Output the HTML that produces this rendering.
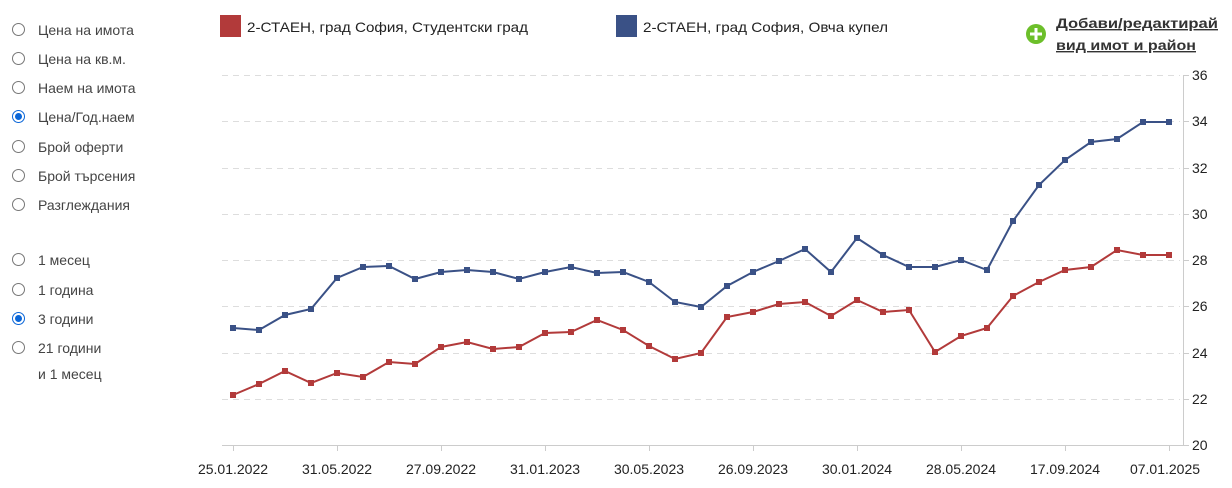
<!DOCTYPE html>
<html><head><meta charset="utf-8"><style>
body{margin:0;width:1232px;height:488px;background:#fff;overflow:hidden;font-family:"Liberation Sans","DejaVu Sans",sans-serif}
.r{position:absolute;left:12px;font-size:14px;color:#444}
.r i{position:absolute;left:0;top:1px;width:13px;height:13px;border:1px solid #777;border-radius:50%;box-sizing:border-box}
.r i.on{border-color:#0a66d8}
.r i.on:after{content:"";position:absolute;left:2px;top:2px;width:7px;height:7px;border-radius:50%;background:#0a66d8}
.r span{position:absolute;left:26px;white-space:nowrap}
</style></head><body>
<div class="r" style="top:22px"><i></i><span>Цена на имота</span></div>
<div class="r" style="top:51px"><i></i><span>Цена на кв.м.</span></div>
<div class="r" style="top:80px"><i></i><span>Наем на имота</span></div>
<div class="r" style="top:109px"><i class="on"></i><span>Цена/Год.наем</span></div>
<div class="r" style="top:139px"><i></i><span>Брой оферти</span></div>
<div class="r" style="top:168px"><i></i><span>Брой търсения</span></div>
<div class="r" style="top:197px"><i></i><span>Разглеждания</span></div>
<div class="r" style="top:252px"><i></i><span>1 месец</span></div>
<div class="r" style="top:282px"><i></i><span>1 година</span></div>
<div class="r" style="top:311px"><i class="on"></i><span>3 години</span></div>
<div class="r" style="top:340px"><i></i><span>21 години</span></div>
<div class="r" style="top:366px"><span>и 1 месец</span></div>
<svg width="1232" height="488" style="position:absolute;left:0;top:0" font-family="Liberation Sans, DejaVu Sans, sans-serif">
<rect x="220" y="15" width="21" height="22" fill="#b23a3a"/>
<text x="247" y="32" font-size="14" fill="#222" textLength="281" lengthAdjust="spacingAndGlyphs">2-СТАЕН, град София, Студентски град</text>
<rect x="616" y="15" width="21" height="22" fill="#3a5186"/>
<text x="643" y="32" font-size="14" fill="#222" textLength="245" lengthAdjust="spacingAndGlyphs">2-СТАЕН, град София, Овча купел</text>
<circle cx="1036" cy="34" r="10" fill="#6cbf2a"/>
<path d="M1036 28v12M1030 34h12" stroke="#fff" stroke-width="3"/>
<text x="1056" y="28" font-size="14" font-weight="bold" fill="#333" text-decoration="underline" textLength="162" lengthAdjust="spacingAndGlyphs">Добави/редактирай</text>
<text x="1056" y="50" font-size="14" font-weight="bold" fill="#333" text-decoration="underline" textLength="140" lengthAdjust="spacingAndGlyphs">вид имот и район</text>
<g stroke="#ddd" stroke-dasharray="6,5">
<line x1="222" x2="1180" y1="75.5" y2="75.5"/><line x1="222" x2="1180" y1="121.5" y2="121.5"/><line x1="222" x2="1180" y1="168.5" y2="168.5"/><line x1="222" x2="1180" y1="214.5" y2="214.5"/><line x1="222" x2="1180" y1="260.5" y2="260.5"/><line x1="222" x2="1180" y1="306.5" y2="306.5"/><line x1="222" x2="1180" y1="353.5" y2="353.5"/><line x1="222" x2="1180" y1="399.5" y2="399.5"/>
</g>
<g stroke="#ccc"><line x1="222" x2="1184" y1="445.5" y2="445.5"/><line x1="1183.5" x2="1183.5" y1="75" y2="445"/>
<path d="M1183 75.5h6M1183 121.5h6M1183 168.5h6M1183 214.5h6M1183 260.5h6M1183 306.5h6M1183 353.5h6M1183 399.5h6M1183 445.5h6"/>
<path d="M233.5 445v6M337.5 445v6M441.5 445v6M545.5 445v6M649.5 445v6M753.5 445v6M857.5 445v6M961.5 445v6M1065.5 445v6M1169.5 445v6"/></g>
<g font-size="14" fill="#222">
<text x="1192" y="80">36</text><text x="1192" y="126">34</text><text x="1192" y="173">32</text><text x="1192" y="219">30</text><text x="1192" y="265">28</text><text x="1192" y="311">26</text><text x="1192" y="358">24</text><text x="1192" y="404">22</text><text x="1192" y="450">20</text>
</g>
<g font-size="14" fill="#222" text-anchor="middle">
<text x="233" y="474">25.01.2022</text><text x="337" y="474">31.05.2022</text><text x="441" y="474">27.09.2022</text><text x="545" y="474">31.01.2023</text><text x="649" y="474">30.05.2023</text><text x="753" y="474">26.09.2023</text><text x="857" y="474">30.01.2024</text><text x="961" y="474">28.05.2024</text><text x="1065" y="474">17.09.2024</text><text x="1165" y="474">07.01.2025</text>
</g>
<g id="p"></g>
</svg>
<script>
var b=[328,330,315,309,278,267,266,279,272,270,272,279,272,267,273,272,282,302,307,286,272,261,249,272,238,255,267,267,260,270,221,185,160,142,139,122,122];
var r=[395,384,371,383,373,377,362,364,347,342,349,347,333,332,320,330,346,359,353,317,312,304,302,316,300,312,310,352,336,328,296,282,270,267,250,255,255];
var g=document.getElementById('p'),s='';
[[r,'#b23a3a'],[b,'#3a5186']].forEach(function(q){var pts=q[0].map(function(y,i){return (233+i*26)+','+y}).join(' ');
s+='<polyline points="'+pts+'" fill="none" stroke="'+q[1]+'" stroke-width="2"/>';
q[0].forEach(function(y,i){s+='<rect x="'+(230+i*26)+'" y="'+(y-3)+'" width="6" height="6" fill="'+q[1]+'"/>';});});
g.innerHTML=s;
</script>
</body></html>
